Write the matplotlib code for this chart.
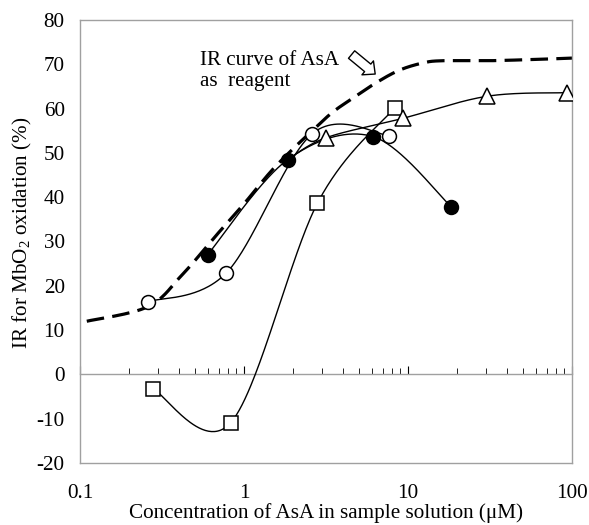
import numpy as np
import matplotlib
matplotlib.use("Agg")
import matplotlib.pyplot as plt


plt.rcParams['font.family'] = ['Liberation Serif', 'DejaVu Serif']
plt.rcParams['mathtext.fontset'] = 'custom'
plt.rcParams['mathtext.rm'] = 'Liberation Serif'
plt.rcParams['axes.unicode_minus'] = False


# Data
#----------------------------------------------------------------------------------------------------
reagent_x = [0.11, 0.26, 0.42, 0.7, 1.0, 1.45, 2.0, 2.7, 3.5, 4.9, 6.5, 8.9, 12.3, 16.0, 30.0, 60.0, 100.0]
reagent_y = [12.0, 15.3, 22.5, 32.0, 38.5, 45.7, 51.0, 55.5, 59.3, 63.0, 66.0, 68.7, 70.3, 70.8, 70.8, 71.1, 71.4]

filled_x = [0.6, 1.85, 6.1, 18.3]
filled_y = [27.0, 48.5, 53.7, 37.9]

open_x = [0.26, 0.78, 2.6, 7.7]
open_y = [16.4, 22.9, 54.3, 53.9]

square_x = [0.279, 0.83, 2.8, 8.3]
square_y = [-3.3, -10.9, 38.6, 60.2]

triangle_x = [1.85, 3.15, 9.3, 30.5, 93.0]
triangle_y = [48.5, 53.4, 57.8, 62.8, 63.6]


#----------------------------------------------------------------------------------------------------
def smooth(xs, ys, n=60):

    # Catmull-Rom style bezier in (log x, y) screen-like space, like a spreadsheet smoothed line
    u = np.log10(np.asarray(xs, float)) * 164.0
    v = np.asarray(ys, float) * 4.43
    pts = np.c_[u, v]
    m = len(pts)
    t = np.linspace(0, 1, n)[:, None]
    out = []
    for i in range(m - 1):
        p0 = pts[max(i - 1, 0)]
        p1 = pts[i]
        p2 = pts[i + 1]
        p3 = pts[min(i + 2, m - 1)]
        c1 = p1 + (p2 - p0) / 6.0
        c2 = p2 - (p3 - p1) / 6.0
        seg = (1 - t)**3 * p1 + 3 * (1 - t)**2 * t * c1 + 3 * (1 - t) * t**2 * c2 + t**3 * p2
        out.append(seg if i == 0 else seg[1:])
    out = np.vstack(out)
    return 10**(out[:, 0] / 164.0), out[:, 1] / 4.43


# Draw
#----------------------------------------------------------------------------------------------------
fs = 15.2

fig = plt.figure(figsize=(5.89, 5.25), dpi=100)
ax = fig.add_axes([80/589, 62/525, 492/589, 443/525])

ax.set_xscale('log')
ax.set_xlim(0.1, 100)
ax.set_ylim(-20, 80)

gray = '#a0a0a0'
for s in ax.spines.values():
    s.set_color(gray)
    s.set_linewidth(1.0)

ax.set_yticks(np.arange(-20, 81, 10))
ax.set_xticks([0.1, 1, 10, 100])
ax.set_xticklabels(['0.1', '1', '10', '100'])
ax.xaxis.set_minor_locator(matplotlib.ticker.NullLocator())
ax.tick_params(axis='both', which='both', length=0, labelsize=fs)
ax.tick_params(axis='x', pad=15)
ax.tick_params(axis='y', pad=11)

# zero line with upward ticks
sec = ax.secondary_xaxis(0.2)
sec.spines['bottom'].set_color(gray)
sec.spines['bottom'].set_linewidth(1.0)
sec.xaxis.set_major_locator(matplotlib.ticker.LogLocator(base=10))
sec.xaxis.set_minor_locator(matplotlib.ticker.LogLocator(base=10, subs=np.arange(2, 10)))
sec.tick_params(which='major', direction='in', length=6, color='black', width=0.8, labelbottom=False)
sec.tick_params(which='minor', direction='in', length=4, color='black', width=0.6, labelbottom=False)

rx, ry = smooth(reagent_x, reagent_y, 30)
ax.plot(rx, ry, color='black', lw=2.3, dashes=(5.5, 2.6), zorder=2)

lw = 1.0
sx, sy = smooth(square_x, square_y)
ax.plot(sx, sy, color='black', lw=lw, zorder=3)
tx, ty = smooth(triangle_x, triangle_y)
ax.plot(tx, ty, color='black', lw=lw, zorder=3)
ox, oy = smooth(open_x, open_y)
ax.plot(ox, oy, color='black', lw=lw, zorder=3)
fx, fy = smooth(filled_x, filled_y)
ax.plot(fx, fy, color='black', lw=lw, zorder=3)

ax.plot(square_x, square_y, ls='none', marker='s', ms=10, mfc='white', mec='black', mew=1.1, zorder=4)
ax.plot(triangle_x[1:], triangle_y[1:], ls='none', marker='^', ms=11, mfc='white', mec='black', mew=1.1, zorder=4)
ax.plot(open_x, open_y, ls='none', marker='o', ms=10, mfc='white', mec='black', mew=1.1, zorder=4)
ax.plot(filled_x, filled_y, ls='none', marker='o', ms=10, mfc='black', mec='black', mew=1.1, zorder=5)

ax.text(0.244, 0.93, 'IR curve of AsA\nas  reagent', transform=ax.transAxes,
        fontsize=fs, ha='left', va='top', linespacing=1.12)

ax.annotate('', xy=(0.600, 0.878), xytext=(0.552, 0.922), xycoords='axes fraction',
            arrowprops=dict(arrowstyle='simple,head_width=1.3,head_length=0.7,tail_width=0.7',
                            fc='white', ec='black', lw=1.0, shrinkA=0, shrinkB=0))

ax.set_xlabel('Concentration of AsA in sample solution (\u03bcM)', fontsize=fs, labelpad=0)
ax.set_ylabel('IR for MbO$_2$ oxidation (%)', fontsize=fs)
ax.yaxis.set_label_coords(-0.094, 0.52)

fig.savefig('out.png', dpi=100)
